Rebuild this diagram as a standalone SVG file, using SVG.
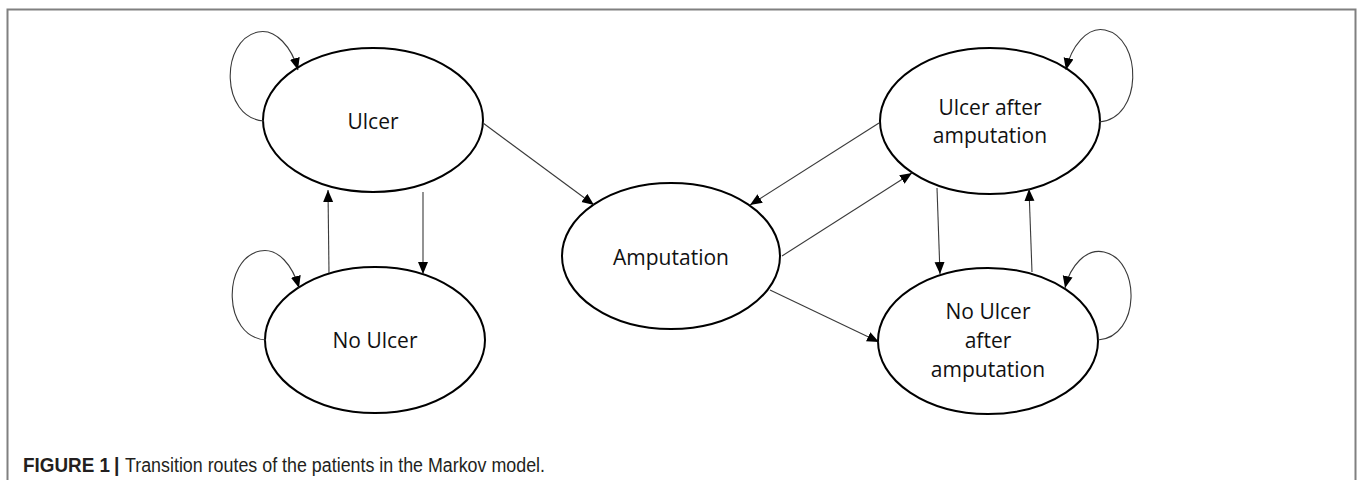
<svg xmlns="http://www.w3.org/2000/svg" width="1358" height="480" viewBox="0 0 1358 480">
<style>
.node{fill:#fff;stroke:#000;stroke-width:2}
.lbl{font-family:"Open Sans","Liberation Sans",sans-serif;font-size:21px;fill:#111;text-anchor:middle}
.edge{fill:none;stroke:#3a3a3a;stroke-width:1.1}
.frame{fill:none;stroke:#808080;stroke-width:2}
.cap{font-family:"Liberation Sans",Arial,sans-serif;font-size:19.5px;fill:#231f20}
</style>
<defs>
<marker id="ah" markerUnits="userSpaceOnUse" markerWidth="14" markerHeight="12" refX="12" refY="5" orient="auto">
<path d="M0,0 L12,5 L0,10 Z" fill="#000"/>
</marker>
</defs>
<path class="frame" d="M7.5,480 V9.5 H1355.5 V480"/>
<g id="ulcer"><ellipse class="node" cx="373" cy="120" rx="110" ry="72"/><text class="lbl" x="373" y="129">Ulcer</text></g>
<g id="no-ulcer"><ellipse class="node" cx="375" cy="340" rx="110" ry="73"/><text class="lbl" x="375" y="348">No Ulcer</text></g>
<g id="amputation"><ellipse class="node" cx="671" cy="256" rx="109" ry="73"/><text class="lbl" x="671" y="265">Amputation</text></g>
<g id="ulcer-after"><ellipse class="node" cx="990" cy="121" rx="110" ry="73"/><text class="lbl" x="990" y="115">Ulcer after</text><text class="lbl" x="990" y="143">amputation</text></g>
<g id="no-ulcer-after"><ellipse class="node" cx="988" cy="341" rx="110" ry="73"/><text class="lbl" x="988" y="319">No Ulcer</text><text class="lbl" x="988" y="348">after</text><text class="lbl" x="988" y="377">amputation</text></g>
<g id="connectors">
<path class="edge" marker-end="url(#ah)" d="M264,121 C220,118 220,40 258,32 C276,28 292,48 298,70"/>
<path class="edge" marker-end="url(#ah)" d="M266,340 C222,337 222,259 260,251 C278,247 293,266 299,288"/>
<path class="edge" marker-end="url(#ah)" d="M1099,122 C1143,119 1143,38 1105,30 C1087,26 1071,47 1066,70"/>
<path class="edge" marker-end="url(#ah)" d="M1098,340 C1141,337 1141,260 1104,252 C1086,248 1070,266 1065,288"/>
<line class="edge" marker-end="url(#ah)" x1="423" y1="192" x2="423" y2="274"/>
<line class="edge" marker-end="url(#ah)" x1="329" y1="273" x2="328" y2="190"/>
<line class="edge" marker-end="url(#ah)" x1="483" y1="123" x2="594" y2="205"/>
<line class="edge" marker-end="url(#ah)" x1="879" y1="123" x2="750" y2="205"/>
<line class="edge" marker-end="url(#ah)" x1="782" y1="256" x2="912" y2="173"/>
<line class="edge" marker-end="url(#ah)" x1="770" y1="290" x2="879" y2="342"/>
<line class="edge" marker-end="url(#ah)" x1="937" y1="188" x2="940" y2="274"/>
<line class="edge" marker-end="url(#ah)" x1="1032" y1="272" x2="1029" y2="189"/>
</g>
<text class="cap" x="23" y="472" font-weight="bold" textLength="87" lengthAdjust="spacingAndGlyphs">FIGURE 1</text>
<text class="cap" x="114" y="472" font-weight="bold">|</text>
<text class="cap" x="125" y="472" textLength="420" lengthAdjust="spacingAndGlyphs">Transition routes of the patients in the Markov model.</text>
</svg>
